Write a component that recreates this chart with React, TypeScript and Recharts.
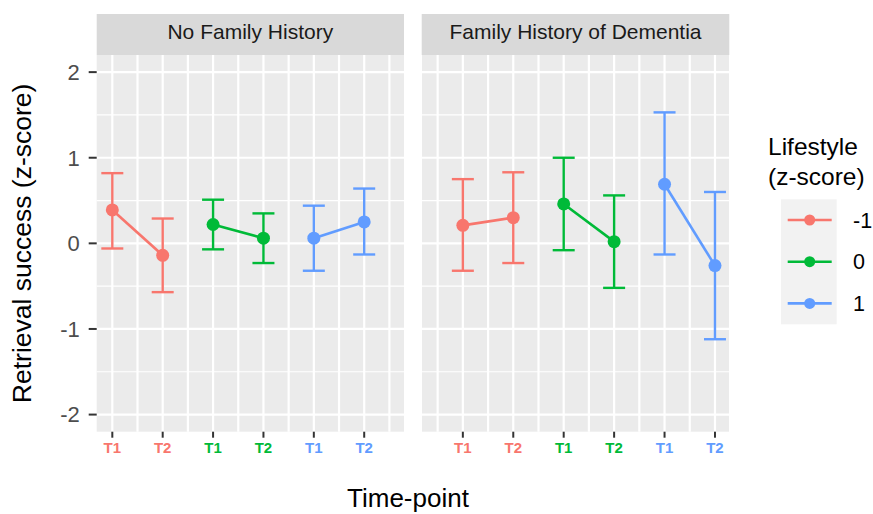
import React from 'react';
import { ComposedChart, Line, XAxis, YAxis, CartesianGrid, ErrorBar } from 'recharts';

const FONT = "'Liberation Sans', Arial, Helvetica, sans-serif";

const lifestyles = ['-1', '0', '1'];
const timepoints = ['T1', 'T2'];
const colors = ['#F8766D', '#00BA38', '#619CFF'];
const panelTitles = ['No Family History', 'Family History of Dementia'];

// mean and CI bounds per lifestyle group, [T1, T2]
const noFhMean = [[0.39, -0.14], [0.22, 0.06], [0.06, 0.25]];
const noFhLow = [[-0.06, -0.57], [-0.07, -0.23], [-0.32, -0.13]];
const noFhHigh = [[0.82, 0.29], [0.51, 0.35], [0.44, 0.64]];

const fhMean = [[0.21, 0.30], [0.46, 0.02], [0.69, -0.26]];
const fhLow = [[-0.32, -0.23], [-0.08, -0.52], [-0.13, -1.12]];
const fhHigh = [[0.75, 0.83], [1.0, 0.56], [1.53, 0.60]];

const yTicks = [-2, -1, 0, 1, 2];
const yMinor = [-1.5, -0.5, 0.5, 1.5];
const xTicksNoFh = [1, 2, 3, 4, 5, 6];
const xTicksFh = [1.5, 2.5, 3.5, 4.5, 5.5, 6.5];
const xGrid = [...xTicksNoFh, ...xTicksFh].sort((a, b) => a - b);

const X_DOMAIN: [number, number] = [0.69, 6.79];
const Y_DOMAIN: [number, number] = [-2.2, 2.2];

const buildSeries = (mean: number[][], low: number[][], high: number[][], xs: number[]) =>
    lifestyles.map((_, g) =>
        timepoints.map((_, t) => ({
            x: xs[g * 2 + t],
            y: mean[g][t],
            err: [mean[g][t] - low[g][t], high[g][t] - mean[g][t]]
        }))
    );

const noFhSeries = buildSeries(noFhMean, noFhLow, noFhHigh, xTicksNoFh);
const fhSeries = buildSeries(fhMean, fhLow, fhHigh, xTicksFh);

const makeXTick = (xs: number[]) => (props: any) => {
    const { x, y, payload } = props;
    const i = xs.findIndex((v) => Math.abs(v - payload.value) < 1e-6);
    if (i < 0) return <g />;
    const g = Math.floor(i / 2);
    return (
        <text x={x} y={y} dy={13.5} textAnchor="middle" fill={colors[g]}
            fontSize={15} fontWeight="bold" fontFamily={FONT}>
            {timepoints[i % 2]}
        </text>
    );
};

const Panel = ({ series, xs, showY, width }: { series: any[][]; xs: number[]; showY: boolean; width: number }) => (
    <ComposedChart width={width} height={470} margin={{ top: 55, right: 0, bottom: 0, left: 0 }}>
        <CartesianGrid
            fill="#EBEBEB"
            stroke="#FFFFFF"
            strokeWidth={1.2}
            vertical={false}
            horizontalValues={yMinor}
        />
        <CartesianGrid
            stroke="#FFFFFF"
            strokeWidth={2.2}
            horizontalValues={yTicks}
            verticalValues={xGrid}
        />
        <XAxis
            type="number"
            dataKey="x"
            domain={X_DOMAIN}
            ticks={xs}
            interval={0}
            allowDataOverflow
            height={38.3}
            tickSize={6}
            axisLine={false}
            tickLine={{ stroke: '#333333', strokeWidth: 2 }}
            tick={makeXTick(xs)}
        />
        <YAxis
            type="number"
            domain={Y_DOMAIN}
            ticks={yTicks}
            allowDataOverflow
            hide={!showY}
            width={showY ? 96.7 : 0}
            tickSize={8}
            tickMargin={9}
            axisLine={false}
            tickLine={{ stroke: '#333333', strokeWidth: 2 }}
            tick={{ fill: '#4D4D4D', fontSize: 22, fontFamily: FONT }}
        />
        {series.map((s, g) => (
            <Line
                key={lifestyles[g]}
                data={s}
                dataKey="y"
                stroke={colors[g]}
                strokeWidth={2.6}
                dot={{ r: 6.5, fill: colors[g], stroke: colors[g], strokeWidth: 0 }}
                activeDot={false}
                isAnimationActive={false}
            >
                <ErrorBar dataKey="err" direction="y" width={11} stroke={colors[g]} strokeWidth={2.4} isAnimationActive={false} />
            </Line>
        ))}
    </ComposedChart>
);

export default function App() {
    return (
        <div style={{ position: 'absolute', left: 0, top: 0, width: 873, height: 514, background: '#fff', fontFamily: FONT }}>
            <div style={{ position: 'absolute', left: 0, top: 0 }}>
                <Panel series={noFhSeries} xs={xTicksNoFh} showY width={404} />
            </div>
            <div style={{ position: 'absolute', left: 421.7, top: 0 }}>
                <Panel series={fhSeries} xs={xTicksFh} showY={false} width={307.6} />
            </div>
            <svg width={873} height={514} style={{ position: 'absolute', left: 0, top: 0, pointerEvents: 'none' }}>
                {/* facet strips */}
                <rect x={96.7} y={14} width={307.3} height={41} fill="#D9D9D9" />
                <rect x={421.7} y={14} width={307.6} height={41} fill="#D9D9D9" />
                <text x={250.3} y={38.5} textAnchor="middle" fontSize={21} fill="#1A1A1A" fontFamily={FONT}>{panelTitles[0]}</text>
                <text x={575.5} y={38.5} textAnchor="middle" fontSize={21} fill="#1A1A1A" fontFamily={FONT}>{panelTitles[1]}</text>

                {/* axis titles */}
                <text x={408} y={506.5} textAnchor="middle" fontSize={26} fill="#000" fontFamily={FONT}>Time-point</text>
                <text transform="translate(31,243.4) rotate(-90)" textAnchor="middle" fontSize={26.5} fill="#000" fontFamily={FONT}>
                    Retrieval success (z-score)
                </text>

                {/* legend */}
                <text x={768} y={155} fontSize={24.5} fill="#000" fontFamily={FONT}>Lifestyle</text>
                <text x={768} y={185} fontSize={24.5} fill="#000" fontFamily={FONT}>(z-score)</text>
                <rect x={781} y={199.3} width={55.7} height={125} fill="#F2F2F2" />
                {lifestyles.map((l, g) => {
                    const cy = 220 + g * 41.7;
                    return (
                        <g key={l}>
                            <line x1={787.7} x2={831.7} y1={cy} y2={cy} stroke={colors[g]} strokeWidth={2.6} />
                            <circle cx={809.7} cy={cy} r={5.5} fill={colors[g]} />
                            <text x={853} y={cy + 7.5} fontSize={21.5} fill="#000" fontFamily={FONT}>{l}</text>
                        </g>
                    );
                })}
            </svg>
        </div>
    );
}
